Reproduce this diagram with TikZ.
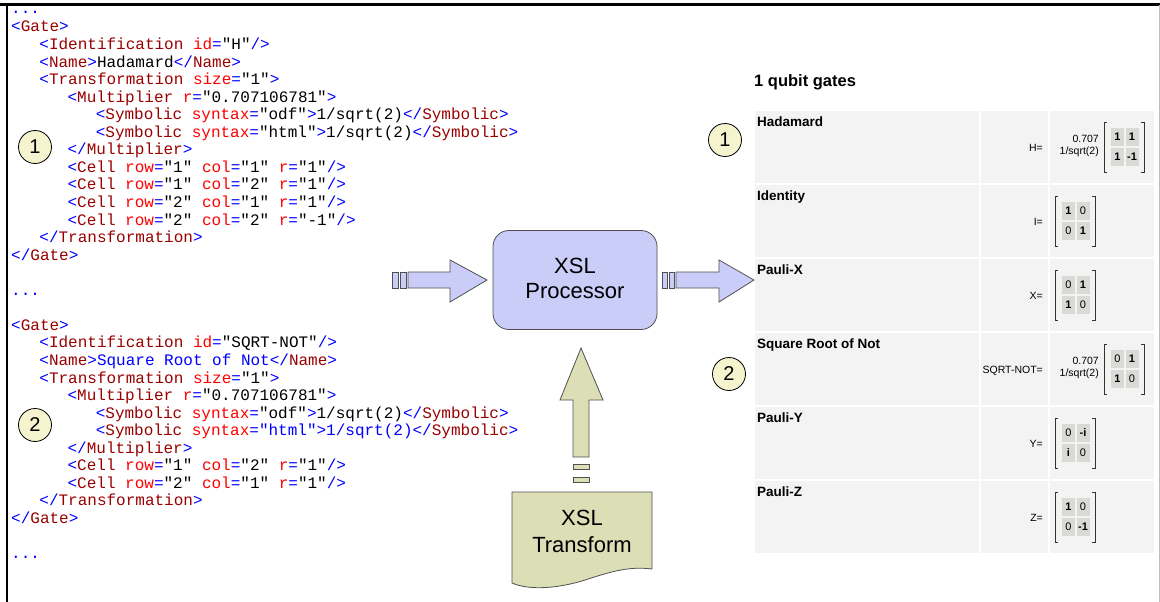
\documentclass[tikz,border=0pt]{standalone}
\usepackage{fontspec}
\setmainfont{Liberation Sans}
\newfontfamily\codefont{Liberation Mono}
\usetikzlibrary{calc}

% XML syntax colours
\definecolor{xmark}{HTML}{0000FF}
\definecolor{xelem}{HTML}{990000}
\definecolor{xattr}{HTML}{FF0000}
\definecolor{xval}{HTML}{000000}
% shape colours
\definecolor{lav}{HTML}{C9CDF7}
\definecolor{khaki}{HTML}{DCDEB6}
\definecolor{badgefill}{HTML}{F6F3CF}
\definecolor{rowbg}{HTML}{F3F3F3}
\definecolor{cellbg}{HTML}{D9DAD6}
\definecolor{edge}{HTML}{505050}

\newcommand\mk[1]{\textcolor{xmark}{#1}}
\newcommand\el[1]{\textcolor{xelem}{#1}}
\newcommand\an[1]{\textcolor{xattr}{#1}}
\newcommand\av[1]{\textcolor{xval}{#1}}

% one line of XML: line number, indent level, node name, content
\newcommand\codeline[4]{\node[codetext] (#3) at ({11+28.2*#2},{32+17.55*(#1-1)}) {#4};}

% a 2x2 gate matrix: name, left bracket x, centre y, four entries
\newcommand\qmat[7]{%
  \draw[bracket] ({#2+3},{#3-25}) -- ({#2},{#3-25}) -- ({#2},{#3+25}) -- ({#2+3},{#3+25});
  \draw[bracket] ({#2+37},{#3-25}) -- ({#2+40},{#3-25}) -- ({#2+40},{#3+25}) -- ({#2+37},{#3+25});
  \node[mcell] (#1-a) at ({#2+13.5},{#3-10}) {#4};
  \node[mcell] (#1-b) at ({#2+28},{#3-10}) {#5};
  \node[mcell] (#1-c) at ({#2+13.5},{#3+10}) {#6};
  \node[mcell] (#1-d) at ({#2+28},{#3+10}) {#7};
}

% grey background of one table row
\newcommand\rowback[1]{%
  \fill[rowbg] (755,#1) rectangle (979,{#1+72});
  \fill[rowbg] (981,#1) rectangle (1048,{#1+72});
  \fill[rowbg] (1050,#1) rectangle (1154,{#1+72});
}

\begin{document}
\begin{tikzpicture}[x=1pt,y=-1pt,
  codetext/.style={anchor=base west,inner sep=0pt,font=\codefont\fontsize{16}{17}\selectfont},
  badge/.style={circle,draw=black,line width=0.8pt,fill=badgefill,minimum size=33pt,inner sep=0pt,font=\fontsize{20}{20}\selectfont},
  blockshape/.style={draw=edge,line width=0.8pt},
  bigtext/.style={anchor=base,inner sep=0pt,font=\fontsize{22}{24}\selectfont},
  rowlabel/.style={anchor=base west,inner sep=0pt,font=\bfseries\fontsize{13.5}{14}\selectfont},
  eqlabel/.style={anchor=base east,inner sep=0pt,font=\fontsize{10.5}{11}\selectfont},
  mcell/.style={fill=cellbg,minimum width=13pt,minimum height=18pt,inner sep=0pt,font=\fontsize{11}{11}\selectfont},
  bracket/.style={draw=black!80,line width=0.9pt}]

\useasboundingbox (0,0) rectangle (1160,602);

% outer frame
\draw[black,line width=2.4pt] (0,4.5) -- (1160,4.5);
\draw[black,line width=2.4pt] (7,3.3) -- (7,602);
\draw[black!25,line width=1pt] (1159,5.5) -- (1159,602);

% ---------------- XML source ----------------
\node[codetext] (dots0) at (11,13.5) {\mk{...}};
\codeline{1}{0}{g1}{\mk{<}\el{Gate}\mk{>}}
\codeline{2}{1}{g1id}{\mk{<}\el{Identification} \an{id}\mk{=}\av{"H"}\mk{/>}}
\codeline{3}{1}{g1nm}{\mk{<}\el{Name}\mk{>}Hadamard\mk{</}\el{Name}\mk{>}}
\codeline{4}{1}{g1tr}{\mk{<}\el{Transformation} \an{size}\mk{=}\av{"1"}\mk{>}}
\codeline{5}{2}{g1mu}{\mk{<}\el{Multiplier} \an{r}\mk{=}\av{"0.707106781"}\mk{>}}
\codeline{6}{3}{g1s1}{\mk{<}\el{Symbolic} \an{syntax}\mk{=}\av{"odf"}\mk{>}1/sqrt(2)\mk{</}\el{Symbolic}\mk{>}}
\codeline{7}{3}{g1s2}{\mk{<}\el{Symbolic} \an{syntax}\mk{=}\av{"html"}\mk{>}1/sqrt(2)\mk{</}\el{Symbolic}\mk{>}}
\codeline{8}{2}{g1me}{\mk{</}\el{Multiplier}\mk{>}}
\codeline{9}{2}{g1c1}{\mk{<}\el{Cell} \an{row}\mk{=}\av{"1"} \an{col}\mk{=}\av{"1"} \an{r}\mk{=}\av{"1"}\mk{/>}}
\codeline{10}{2}{g1c2}{\mk{<}\el{Cell} \an{row}\mk{=}\av{"1"} \an{col}\mk{=}\av{"2"} \an{r}\mk{=}\av{"1"}\mk{/>}}
\codeline{11}{2}{g1c3}{\mk{<}\el{Cell} \an{row}\mk{=}\av{"2"} \an{col}\mk{=}\av{"1"} \an{r}\mk{=}\av{"1"}\mk{/>}}
\codeline{12}{2}{g1c4}{\mk{<}\el{Cell} \an{row}\mk{=}\av{"2"} \an{col}\mk{=}\av{"2"} \an{r}\mk{=}\av{"-1"}\mk{/>}}
\codeline{13}{1}{g1te}{\mk{</}\el{Transformation}\mk{>}}
\codeline{14}{0}{g1e}{\mk{</}\el{Gate}\mk{>}}
\codeline{16}{0}{dots1}{\mk{...}}
\codeline{18}{0}{g2}{\mk{<}\el{Gate}\mk{>}}
\codeline{19}{1}{g2id}{\mk{<}\el{Identification} \an{id}\mk{=}\av{"SQRT-NOT"}\mk{/>}}
\codeline{20}{1}{g2nm}{\mk{<}\el{Name}\mk{>Square Root of Not</}\el{Name}\mk{>}}
\codeline{21}{1}{g2tr}{\mk{<}\el{Transformation} \an{size}\mk{=}\av{"1"}\mk{>}}
\codeline{22}{2}{g2mu}{\mk{<}\el{Multiplier} \an{r}\mk{=}\av{"0.707106781"}\mk{>}}
\codeline{23}{3}{g2s1}{\mk{<}\el{Symbolic} \an{syntax}\mk{=}\av{"odf"}\mk{>}1/sqrt(2)\mk{</}\el{Symbolic}\mk{>}}
\codeline{24}{3}{g2s2}{\mk{<}\el{Symbolic} \an{syntax}\mk{="html">1/sqrt(2)</}\el{Symbolic}\mk{>}}
\codeline{25}{2}{g2me}{\mk{</}\el{Multiplier}\mk{>}}
\codeline{26}{2}{g2c1}{\mk{<}\el{Cell} \an{row}\mk{=}\av{"1"} \an{col}\mk{=}\av{"2"} \an{r}\mk{=}\av{"1"}\mk{/>}}
\codeline{27}{2}{g2c2}{\mk{<}\el{Cell} \an{row}\mk{=}\av{"2"} \an{col}\mk{=}\av{"1"} \an{r}\mk{=}\av{"1"}\mk{/>}}
\codeline{28}{1}{g2te}{\mk{</}\el{Transformation}\mk{>}}
\codeline{29}{0}{g2e}{\mk{</}\el{Gate}\mk{>}}
\codeline{31}{0}{dots2}{\mk{...}}

% numbered markers
\node[badge] (mk1l) at (35,147) {1};
\node[badge] (mk2l) at (35,425) {2};
\node[badge] (mk1r) at (725,140) {1};
\node[badge] (mk2r) at (729,374) {2};

% ---------------- XSL processor ----------------
\node[draw=edge,line width=0.8pt,fill=lav,rounded corners=16pt,
      minimum width=164pt,minimum height=99pt] (proc) at (575,280) {};
\node[bigtext] (procA) at (575,273) {XSL};
\node[bigtext] (procB) at (575,298) {Processor};

% input arrow
\filldraw[blockshape,fill=lav] (392,272) rectangle (398,288);
\filldraw[blockshape,fill=lav] (400,272) rectangle (406,288);
\filldraw[blockshape,fill=lav] (408,272) -- (450,272) -- (450,260) -- (487,280)
   -- (450,302) -- (450,288) -- (408,288) -- cycle;

% output arrow
\filldraw[blockshape,fill=lav] (662,272) rectangle (667,288);
\filldraw[blockshape,fill=lav] (669,272) rectangle (674,288);
\filldraw[blockshape,fill=lav] (676,272) -- (719,272) -- (719,260) -- (754,280)
   -- (719,302) -- (719,288) -- (676,288) -- cycle;

% transform input arrow
\filldraw[blockshape,fill=khaki] (573,477) rectangle (589,482);
\filldraw[blockshape,fill=khaki] (573,464) rectangle (589,469);
\filldraw[blockshape,fill=khaki] (573,457) -- (573,400) -- (560,400) -- (581,348)
   -- (603,400) -- (589,400) -- (589,457) -- cycle;

% XSL transform document
\filldraw[blockshape,fill=khaki] (512,492) -- (652,492) -- (652,569)
   .. controls (628,566) and (610,572) .. (585,580)
   .. controls (560,588) and (530,591) .. (512,583) -- cycle;
\node[bigtext] (xsltA) at (582,525) {XSL};
\node[bigtext] (xsltB) at (582,552) {Transform};

% ---------------- gate table ----------------
\node[anchor=base west,inner sep=0pt,font=\bfseries\fontsize{16.5}{17}\selectfont] (ttl) at (754,87) {1 qubit gates};

\rowback{111}
\rowback{185}
\rowback{259}
\rowback{333}
\rowback{407}
\rowback{481}

% Hadamard
\node[rowlabel] (nH) at (757,126) {Hadamard};
\node[eqlabel] (eH) at (1043,151.5) {H=};
\node[eqlabel] (kH1) at (1099,142) {0.707};
\node[eqlabel] (kH2) at (1099,154) {1/sqrt(2)};
\qmat{mH}{1104}{147}{\bfseries 1}{\bfseries 1}{\bfseries 1}{\bfseries -1}

% Identity
\node[rowlabel] (nI) at (757,200) {Identity};
\node[eqlabel] (eI) at (1043,225.5) {I=};
\qmat{mI}{1055}{221}{\bfseries 1}{0}{0}{\bfseries 1}

% Pauli-X
\node[rowlabel] (nX) at (757,274) {Pauli-X};
\node[eqlabel] (eX) at (1043,299.5) {X=};
\qmat{mX}{1055}{295}{0}{\bfseries 1}{\bfseries 1}{0}

% Square root of not
\node[rowlabel] (nS) at (757,348) {Square Root of Not};
\node[eqlabel] (eS) at (1043,373.5) {SQRT-NOT=};
\node[eqlabel] (kS1) at (1099,364) {0.707};
\node[eqlabel] (kS2) at (1099,376) {1/sqrt(2)};
\qmat{mS}{1104}{369}{0}{\bfseries 1}{\bfseries 1}{0}

% Pauli-Y
\node[rowlabel] (nY) at (757,422) {Pauli-Y};
\node[eqlabel] (eY) at (1043,447.5) {Y=};
\qmat{mY}{1055}{443}{0}{\bfseries -i}{\bfseries i}{0}

% Pauli-Z
\node[rowlabel] (nZ) at (757,496) {Pauli-Z};
\node[eqlabel] (eZ) at (1043,521.5) {Z=};
\qmat{mZ}{1055}{517}{\bfseries 1}{0}{0}{\bfseries -1}

\end{tikzpicture}
\end{document}
